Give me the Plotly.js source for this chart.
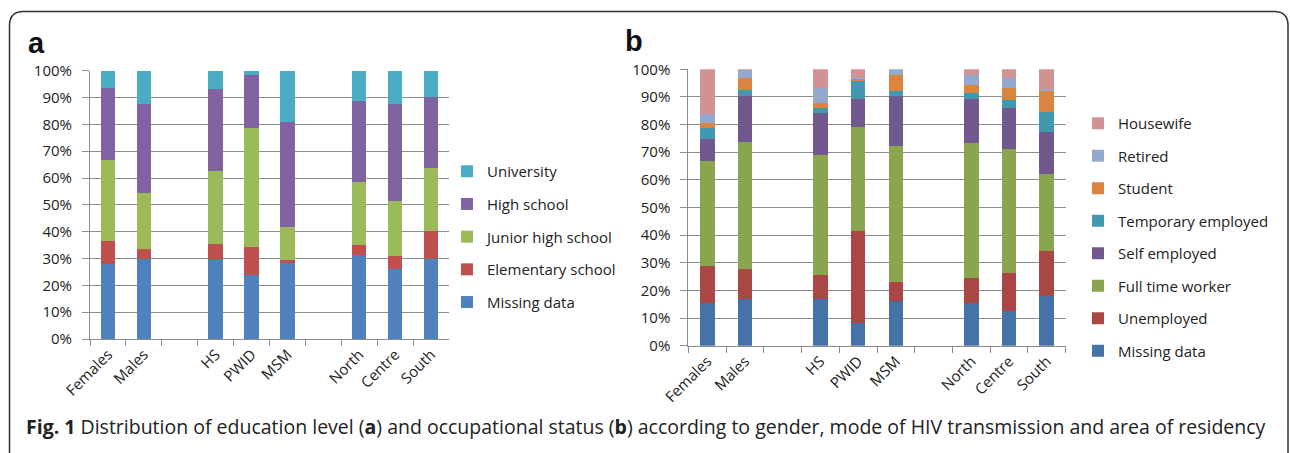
<!DOCTYPE html>
<html>
<head>
<meta charset="utf-8">
<script src="https://cdn.plot.ly/plotly-3.0.1.min.js"></script>
<style>
html,body{margin:0;padding:0;background:#fff;}
#chart{width:1290px;height:453px;}
</style>
</head>
<body>
<div id="chart"></div>
<script>
// ---------- DATA ----------
const categories = ["Females", "Males", " ", "HS", "PWID", "MSM", "  ", "North", "Centre", "South"];

// Panel a: education level (% of each group)
const eduNames = ["Missing data", "Elementary school", "Junior high school", "High school", "University"];
const eduMissing    = [27.8, 29.8, null, 29.4, 23.9, 28.3, null, 31.3, 26.0, 29.9];
const eduElementary = [8.6,  3.6,  null, 6.0,  10.5, 1.1,  null, 3.7,  4.9,  10.5];
const eduJunior     = [30.2, 21.1, null, 27.1, 44.1, 12.5, null, 23.5, 20.7, 23.2];
const eduHigh       = [27.1, 33.1, null, 30.7, 19.8, 39.1, null, 30.2, 36.0, 26.5];
const eduUniversity = [6.3,  12.4, null, 6.8,  1.7,  19.0, null, 11.3, 12.4, 9.9];

// Panel b: occupational status (% of each group)
const occNames = ["Missing data", "Unemployed", "Full time worker", "Self employed", "Temporary employed", "Student", "Retired", "Housewife"];
const occMissing   = [15.3, 16.8, null, 16.8, 8.1,  16.2, null, 15.3, 12.4, 17.9];
const occUnemployed= [13.7, 10.8, null, 8.8,  33.5, 7.0,  null, 9.3,  13.8, 16.5];
const occFullTime  = [38.0, 46.2, null, 43.3, 37.7, 49.2, null, 48.7, 44.8, 27.7];
const occSelf      = [7.8,  16.6, null, 15.2, 10.1, 18.0, null, 16.1, 15.1, 15.1];
const occTemporary = [3.8,  2.1,  null, 1.9,  6.5,  1.6,  null, 1.9,  2.9,  7.4];
const occStudent   = [1.9,  4.4,  null, 1.9,  0.5,  5.8,  null, 3.2,  4.4,  7.4];
const occRetired   = [3.5,  2.7,  null, 5.5,  0.8,  2.2,  null, 3.3,  3.5,  0.9];
const occHousewife = [16.0, 0.4,  null, 6.6,  2.8,  0.0,  null, 2.2,  3.1,  7.1];

// ---------- STYLE ----------
const eduColors = ["#4F81BD", "#C0504D", "#9BBB59", "#8064A2", "#4BACC6"];
const occColors = ["#4572A7", "#AA4643", "#89A54E", "#71588F", "#4198AF", "#DB843D", "#93A9CF", "#D19392"];
const eduSeries = [eduMissing, eduElementary, eduJunior, eduHigh, eduUniversity];
const occSeries = [occMissing, occUnemployed, occFullTime, occSelf, occTemporary, occStudent, occRetired, occHousewife];

const W = 1290, H = 453;
const px = v => v / W;
const py = v => 1 - v / H;
const FONT = "Open Sans, Noto Sans, sans-serif";

const traces = [];
eduSeries.forEach((vals, i) => {
  traces.push({
    type: "bar", x: categories, y: vals, name: eduNames[i],
    marker: {color: eduColors[i], line: {width: 0}},
    width: 0.4, xaxis: "x", yaxis: "y",
    legend: "legend", legendgroup: "a" + i, legendrank: 100 - i, hoverinfo: "name+y"
  });
});
occSeries.forEach((vals, i) => {
  traces.push({
    type: "bar", x: categories, y: vals, name: occNames[i],
    marker: {color: occColors[i], line: {width: 0}},
    width: 0.39, xaxis: "x2", yaxis: "y2",
    legend: "legend2", legendgroup: "b" + i, legendrank: 100 - i, hoverinfo: "name+y"
  });
});

const yCommon = {
  range: [0, 100], dtick: 10, ticksuffix: "%",
  showgrid: true, gridcolor: "#8c8c8c", gridwidth: 1,
  showline: true, linecolor: "#8c8c8c", linewidth: 1,
  ticks: "outside", ticklen: 7, tickcolor: "#8c8c8c", ticklabelstandoff: 7,
  tickfont: {family: FONT, size: 15, color: "#222"},
  zeroline: false, fixedrange: true
};
const xCommon = {
  type: "category", categoryorder: "array", categoryarray: categories,
  range: [-0.5, 9.5], tickson: "boundaries",
  showline: true, linecolor: "#8c8c8c", linewidth: 1,
  ticks: "outside", ticklen: 6, tickcolor: "#8c8c8c",
  tickangle: -45, tickfont: {family: FONT, size: 15, color: "#222"},
  showgrid: false, fixedrange: true
};

// Frame with rounded top corners
function framePath() {
  const l = 9.5, t = 11.5, r = 1288, b = 470, rad = 14;
  return "M " + px(l) + "," + py(b) +
    " L " + px(l) + "," + py(t + rad) +
    " Q " + px(l) + "," + py(t) + " " + px(l + rad) + "," + py(t) +
    " L " + px(r - rad) + "," + py(t) +
    " Q " + px(r) + "," + py(t) + " " + px(r) + "," + py(t + rad) +
    " L " + px(r) + "," + py(b);
}

const layout = {
  width: W, height: H,
  margin: {l: 0, r: 0, t: 0, b: 0},
  paper_bgcolor: "#fff", plot_bgcolor: "#fff",
  barmode: "stack", bargap: 0.6,
  font: {family: FONT, color: "#222"},
  xaxis: Object.assign({}, xCommon, {domain: [px(90), px(449)], anchor: "y"}),
  yaxis: Object.assign({}, yCommon, {domain: [py(339), py(70.7)], anchor: "x"}),
  xaxis2: Object.assign({}, xCommon, {domain: [px(688.3), px(1065.7)], anchor: "y2"}),
  yaxis2: Object.assign({}, yCommon, {domain: [py(345.7), py(69.3)], anchor: "x2"}),
  legend: {
    x: px(447), y: py(155), xanchor: "left", yanchor: "top",
    traceorder: "grouped", tracegroupgap: 10.2,
    font: {family: FONT, size: 15, color: "#222"}, bgcolor: "rgba(0,0,0,0)"
  },
  legend2: {
    x: px(1078), y: py(107), xanchor: "left", yanchor: "top",
    traceorder: "grouped", tracegroupgap: 10,
    font: {family: FONT, size: 15, color: "#222"}, bgcolor: "rgba(0,0,0,0)"
  },
  shapes: [{
    type: "path", xref: "paper", yref: "paper", path: framePath(),
    line: {color: "#333", width: 1.5}, fillcolor: "rgba(0,0,0,0)"
  }],
  annotations: [
    {text: "<b>a</b>", xref: "paper", yref: "paper", x: px(26), y: py(25), xanchor: "left", yanchor: "top",
     showarrow: false, font: {family: "Liberation Sans, Arial, sans-serif", size: 29, color: "#111"}},
    {text: "<b>b</b>", xref: "paper", yref: "paper", x: px(623), y: py(23), xanchor: "left", yanchor: "top",
     showarrow: false, font: {family: "Liberation Sans, Arial, sans-serif", size: 29, color: "#111"}},
    {text: "<b>Fig. 1</b> Distribution of education level (<b>a</b>) and occupational status (<b>b</b>) according to gender, mode of HIV transmission and area of residency",
     xref: "paper", yref: "paper", x: px(24), y: py(426), xanchor: "left", yanchor: "middle",
     showarrow: false, font: {family: FONT, size: 19.5, color: "#222"}}
  ]
};

Plotly.newPlot("chart", traces, layout, {displayModeBar: false, staticPlot: true});
</script>
</body>
</html>
